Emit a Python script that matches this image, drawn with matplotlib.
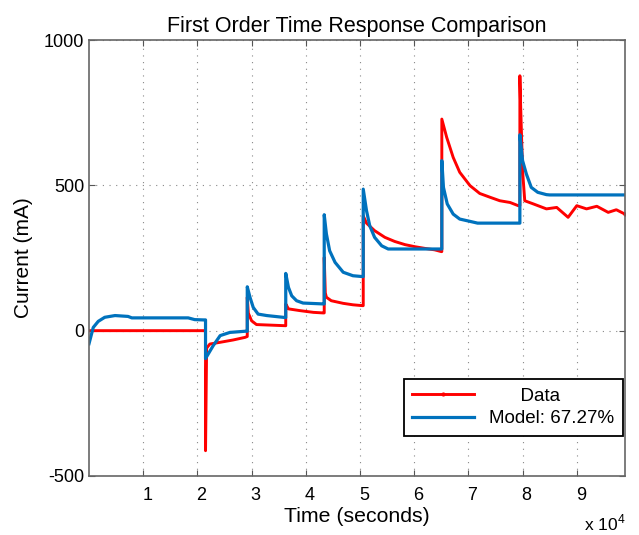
import matplotlib
matplotlib.use("Agg")
import matplotlib.pyplot as plt
import matplotlib.transforms as mtransforms
import numpy as np

plt.rcParams['font.family'] = ['Liberation Sans', 'DejaVu Sans']
plt.rcParams['mathtext.fontset'] = 'custom'
plt.rcParams['mathtext.rm'] = 'Liberation Sans'
plt.rcParams['axes.unicode_minus'] = False

data_t = [0, 21500, 21500, 21700, 22300, 24200, 26600, 28800, 29200, 29200,
          29400, 30000, 30900, 36300, 36300, 36800, 38900, 41400, 43200, 43400,
          43400, 43600, 43800, 44700, 46900, 48700, 50500, 50600, 50600, 51200,
          52700, 54600, 56400, 58300, 60100, 62000, 63800, 65000, 65100, 65100,
          66000, 67200, 68400, 70300, 72100, 74000, 75800, 77700, 79200, 79500,
          79500, 79600, 80000, 80400, 82000, 84400, 86300, 88400, 90000, 91800,
          93700, 95800, 97300, 98900]
data_i = [0, 0, -413, -60, -46, -40, -32, -23, -20, 115,
          60, 34, 21, 17, 92, 75, 69, 63, 61, 61,
          252, 130, 115, 103, 94, 89, 86, 86, 395, 370,
          344, 321, 307, 296, 289, 283, 278, 272, 272, 728,
          665, 596, 545, 499, 472, 459, 447, 441, 430, 430,
          877, 800, 550, 447, 436, 419, 424, 390, 430, 419,
          428, 407, 416, 401]

# first order model response (blue)
model_t = [0, 780, 1700, 2900, 4800, 7200, 7900, 18300, 19500, 21100,
           21500, 21500, 22900, 24200, 26000, 28800, 29200, 29200, 29700, 30300,
           31200, 32800, 35800, 36300, 36300, 36800, 37400, 38300, 39500, 43200,
           43400, 43400, 43800, 44400, 45400, 46900, 48700, 50500, 50600, 50600,
           51200, 51800, 52700, 54000, 55200, 65100, 65100, 65400, 66100, 67200,
           68400, 70300, 71700, 79500, 79500, 80000, 80700, 81600, 82800, 84400,
           85000, 98900]
model_i = [-45, 11, 32, 46, 52, 49, 44, 44, 38, 37,
           37, -96, -52, -17, -6, -2, -2, 151, 115, 80,
           57, 52, 46, 45, 197, 149, 120, 103, 95, 92,
           92, 399, 333, 275, 235, 201, 189, 186, 186, 487,
           413, 361, 321, 292, 281, 281, 585, 493, 436, 401,
           384, 376, 370, 370, 674, 585, 539, 493, 476, 468,
           467, 467]

x_ticks = [10000, 20000, 30000, 40000, 50000, 60000, 70000, 80000, 90000]
x_ticklabels = ['1', '2', '3', '4', '5', '6', '7', '8', '9']
y_ticks = [-500, 0, 500, 1000]

fig = plt.figure(figsize=(6.39, 5.35), dpi=100)
ax = fig.add_axes([0.1393, 0.1103, 0.8388, 0.8149])

ax.plot(data_t, data_i, color='#FF0000', linewidth=2.1,
        marker='.', markersize=4, markevery=[len(data_t) - 1], label='      Data')
ax.plot(model_t, model_i, color='#0072BD', linewidth=2.3, label='Model: 67.27%')

ax.set_xlim(0, 98900)
ax.set_ylim(-500, 1000)
ax.set_xticks(x_ticks)
ax.set_xticklabels(x_ticklabels)
ax.set_yticks(y_ticks)
ax.tick_params(direction='in', length=4, labelsize=13, color='#555555',
               top=True, right=True)
ax.tick_params(axis='x', pad=8)
# matlab export puts the x labels a few pixels right of the grid lines
shift = mtransforms.ScaledTranslation(4 / 100, 0, fig.dpi_scale_trans)
for lab in ax.get_xticklabels():
    lab.set_transform(lab.get_transform() + shift)
for s in ax.spines.values():
    s.set_color('#666666')
    s.set_linewidth(1.2)

ax.grid(True, color='#888888', linewidth=0.8, linestyle=(0, (1, 5)))

ax.set_title('First Order Time Response Comparison', fontsize=15.5, pad=6)
ax.set_xlabel('Time (seconds)', fontsize=15.3, labelpad=2)
ax.set_ylabel('Current (mA)', fontsize=15, labelpad=8)
ax.text(1.0, -0.085, r'x 10$^{4}$', transform=ax.transAxes, ha='right',
        va='top', fontsize=12.5)

leg = ax.legend(loc='lower right', bbox_to_anchor=(0.996, 0.092), fontsize=13.5,
                fancybox=False, framealpha=1, edgecolor='black',
                handlelength=3.3, borderpad=0.45, labelspacing=0.3,
                borderaxespad=0)
leg.get_frame().set_linewidth(1.3)

plt.savefig('out.png', dpi=100)
